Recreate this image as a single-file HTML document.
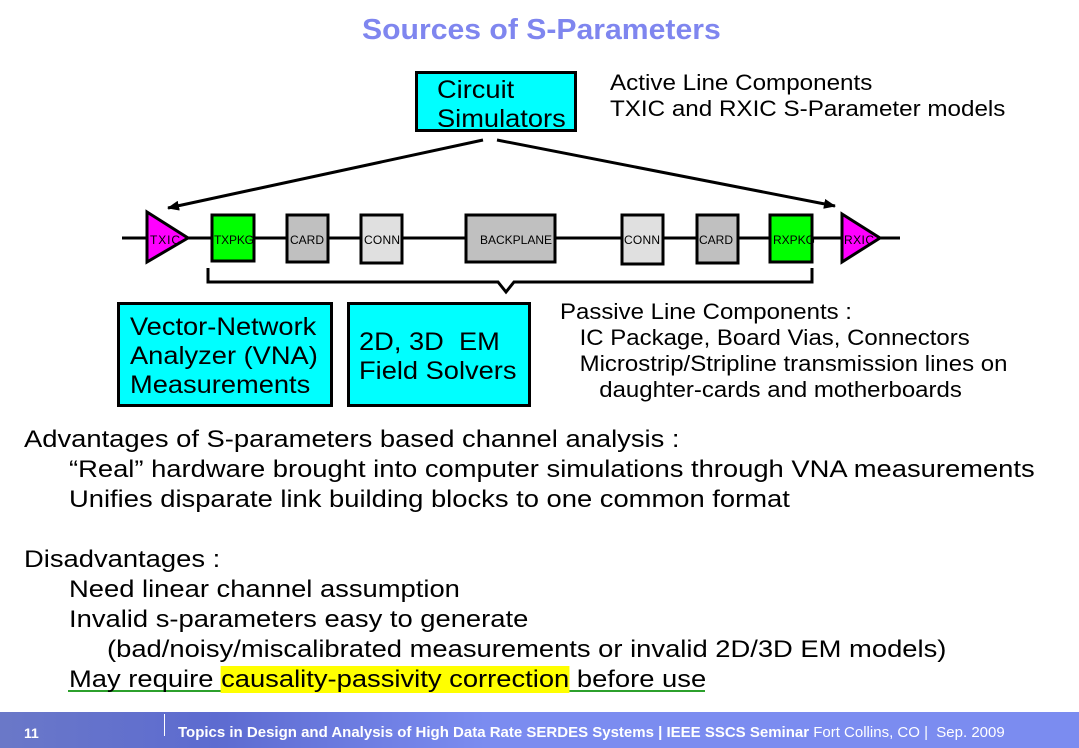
<!DOCTYPE html>
<html><head><meta charset="utf-8"><style>
body{margin:0;width:1079px;height:748px;background:#fff;position:relative;overflow:hidden;font-family:"Liberation Sans",Arial,sans-serif;}
.t{position:absolute;white-space:nowrap;color:#000;transform-origin:0 0;}
.box{position:absolute;background:#00ffff;border:3px solid #000;box-sizing:border-box;font-size:25px;line-height:29px;}
.box span{display:block;transform-origin:0 0;transform:scaleX(1.09);white-space:nowrap;}
.i1{padding-left:45px}.i2{padding-left:83px}
</style></head><body>
<div class="t" style="left:362px;top:14px;font-size:29px;font-weight:bold;color:#7f86ef;transform:scaleX(1.04);">Sources of S-Parameters</div>
<div class="box" style="left:415px;top:71px;width:162px;height:61px;padding:2px 0 0 19px;"><span>Circuit<br>Simulators</span></div>
<div class="t" style="left:610px;top:70px;font-size:22px;line-height:26px;transform:scaleX(1.1);">Active Line Components<br>TXIC and RXIC S-Parameter models</div>
<svg style="position:absolute;left:0;top:0" width="1079" height="748">
<defs><marker id="a" markerWidth="12" markerHeight="10" refX="11" refY="5" orient="auto" markerUnits="userSpaceOnUse"><path d="M0,0L12,5L0,10z" fill="#000"/></marker></defs>
<line x1="483" y1="140" x2="168" y2="208" stroke="#000" stroke-width="3" marker-end="url(#a)"/>
<line x1="497" y1="140" x2="835" y2="206" stroke="#000" stroke-width="3" marker-end="url(#a)"/>
<line x1="122" y1="238" x2="900" y2="238" stroke="#000" stroke-width="3"/>
<polygon points="147,212 188,238 147,262" fill="#ff00ff" stroke="#000" stroke-width="3"/>
<polygon points="842,214 880,238 842,262" fill="#ff00ff" stroke="#000" stroke-width="3"/>
<g stroke="#000" stroke-width="3">
<rect x="212" y="215" width="42" height="46" fill="#00ff00"/>
<rect x="287" y="215" width="41" height="47" fill="#c0c0c0"/>
<rect x="361" y="215" width="41" height="48" fill="#e0e0e0"/>
<rect x="466" y="215" width="89" height="47" fill="#c0c0c0"/>
<rect x="622" y="215" width="41" height="49" fill="#e0e0e0"/>
<rect x="697" y="215" width="41" height="48" fill="#c0c0c0"/>
<rect x="770" y="215" width="42" height="47" fill="#00ff00"/>
</g>
<path d="M208,268 V282 H498 L506,292 L514,282 H812 V268" fill="none" stroke="#000" stroke-width="3"/>
<g font-family="Liberation Sans,Arial,sans-serif" font-size="12" fill="#000">
<text x="150" y="244" textLength="30">TXIC</text><text x="214" y="244" textLength="40">TXPKG</text><text x="290" y="244" textLength="34">CARD</text>
<text x="364" y="244" textLength="36">CONN</text><text x="480" y="244" textLength="72">BACKPLANE</text><text x="624" y="244" textLength="36">CONN</text>
<text x="699" y="244" textLength="34">CARD</text><text x="773" y="244" textLength="42">RXPKG</text><text x="844" y="244" textLength="30">RXIC</text>
</g>
<line x1="68" y1="691" x2="705" y2="691" stroke="#2ca02c" stroke-width="2"/>
</svg>
<div class="box" style="left:117px;top:302px;width:216px;height:105px;padding:8px 0 0 10px;"><span>Vector-Network<br>Analyzer (VNA)<br>Measurements</span></div>
<div class="box" style="left:347px;top:302px;width:184px;height:105px;padding:23px 0 0 9px;"><span>2D, 3D&nbsp; EM<br>Field Solvers</span></div>
<div class="t" style="left:560px;top:299px;font-size:22px;line-height:26px;transform:scaleX(1.09);">Passive Line Components :<br><span style="padding-left:18px">IC Package, Board Vias, Connectors</span><br><span style="padding-left:18px">Microstrip/Stripline transmission lines on</span><br><span style="padding-left:36px">daughter-cards and motherboards</span></div>
<div class="t" style="left:24px;top:425px;font-size:24px;line-height:30px;">
<div style="transform:scaleX(1.14);transform-origin:0 0">Advantages of S-parameters based channel analysis :</div>
<div class="i1"><div style="transform:scaleX(1.14);transform-origin:0 0">“Real” hardware brought into computer simulations through VNA measurements</div></div>
<div class="i1"><div style="transform:scaleX(1.14);transform-origin:0 0">Unifies disparate link building blocks to one common format</div></div>
<div>&nbsp;</div>
<div style="transform:scaleX(1.14);transform-origin:0 0">Disadvantages :</div>
<div class="i1"><div style="transform:scaleX(1.14);transform-origin:0 0">Need linear channel assumption</div></div>
<div class="i1"><div style="transform:scaleX(1.14);transform-origin:0 0">Invalid s-parameters easy to generate</div></div>
<div class="i2"><div style="transform:scaleX(1.14);transform-origin:0 0">(bad/noisy/miscalibrated measurements or invalid 2D/3D EM models)</div></div>
<div class="i1"><div style="transform:scaleX(1.14);transform-origin:0 0">May require <span style="background:#ffff00;">causality-passivity correction</span> before use</div></div>
</div>
<div style="position:absolute;left:0;top:712px;width:1079px;height:36px;background:linear-gradient(90deg,#6a78c8 0%,#5d6bd0 20%,#7b8cf0 45%,#7b8cf0 100%);"></div>
<div style="position:absolute;left:164px;top:714px;width:1px;height:22px;background:#fff;"></div>
<div class="t" style="left:24px;top:725px;font-size:14px;font-weight:bold;color:#fff;">11</div>
<div class="t" style="left:178px;top:724px;font-size:15px;color:#fff;transform:scaleX(1.0);"><b>Topics in Design and Analysis of High Data Rate SERDES Systems | IEEE SSCS Seminar</b> Fort Collins, CO |&nbsp; Sep. 2009</div>
</body></html>
